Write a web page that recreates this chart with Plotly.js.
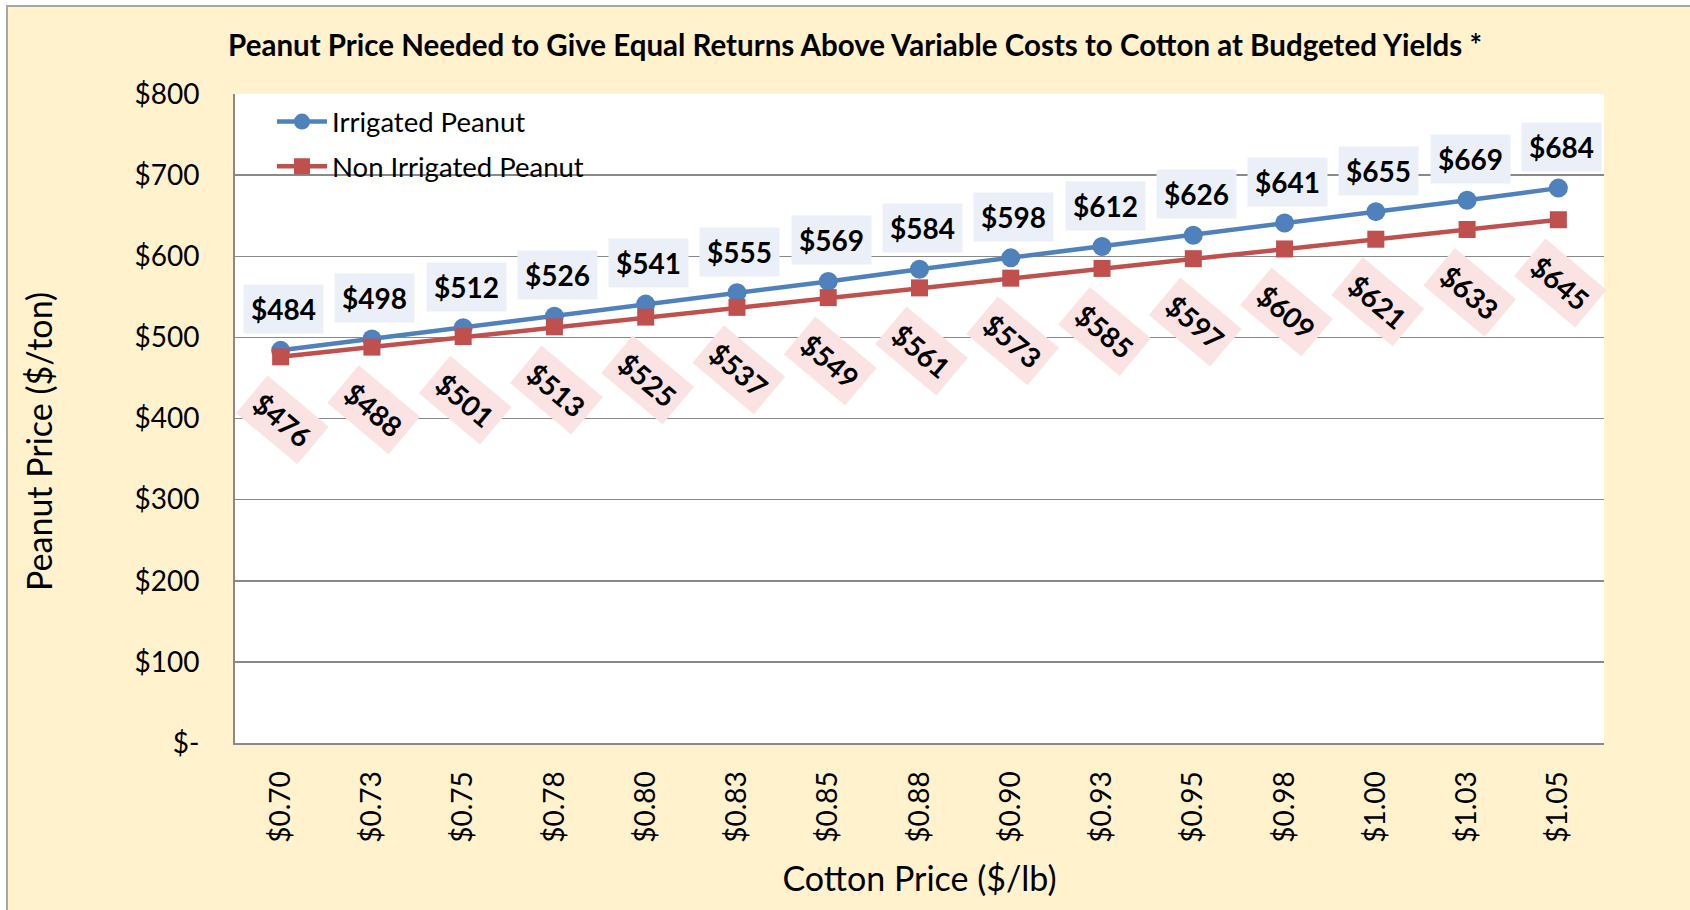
<!DOCTYPE html>
<html>
<head>
<meta charset="utf-8">
<script src="https://cdn.plot.ly/plotly-3.0.1.min.js"></script>
<style>
  html, body { margin: 0; padding: 0; background: #ffffff; width: 1690px; height: 910px; overflow: hidden; }
  #frame { position: absolute; left: 6px; top: 5px; width: 1684px; height: 905px; border-left: 2px solid #a6a6a6; border-top: 2px solid #a6a6a6; background: #FFF2CC; }
  #chart { position: absolute; left: 0px; top: 0px; width: 1684px; height: 905px; }
</style>
</head>
<body>
<div id="frame"><div id="chart"></div></div>
<script>
// ---- data ----
const cottonPrices = ["$0.70", "$0.73", "$0.75", "$0.78", "$0.80", "$0.83", "$0.85", "$0.88", "$0.90", "$0.93", "$0.95", "$0.98", "$1.00", "$1.03", "$1.05"];
const irrigatedPeanut = [484, 498, 512, 526, 541, 555, 569, 584, 598, 612, 626, 641, 655, 669, 684];
const nonIrrigatedPeanut = [476, 488, 501, 513, 525, 537, 549, 561, 573, 585, 597, 609, 621, 633, 645];
const yTickVals = [0, 100, 200, 300, 400, 500, 600, 700, 800];
const yTickText = ["$-", "$100", "$200", "$300", "$400", "$500", "$600", "$700", "$800"];
const seriesNames = ["Irrigated Peanut", "Non Irrigated Peanut"];
const chartTitle = "Peanut Price Needed to Give Equal Returns Above Variable Costs to Cotton at Budgeted Yields *";
const xTitle = "Cotton Price ($/lb)";
const yTitle = "Peanut Price ($/ton)";

// ---- styles ----
const FONT = "Lato, 'Open Sans', sans-serif";
const BLUE = "#4F81BD";
const RED = "#C0504D";
const GRID = "#898989";

const traces = [
  {
    x: cottonPrices, y: irrigatedPeanut, name: seriesNames[0], type: "scatter", mode: "lines+markers",
    legendgroup: "a",
    line: { color: BLUE, width: 4.5 },
    marker: { symbol: "circle", size: 19, color: BLUE },
    hoverinfo: "skip"
  },
  {
    x: cottonPrices, y: nonIrrigatedPeanut, name: seriesNames[1], type: "scatter", mode: "lines+markers",
    legendgroup: "b",
    line: { color: RED, width: 4.5 },
    marker: { symbol: "square", size: 17, color: RED },
    hoverinfo: "skip"
  }
];

const fmt = v => "$" + v;

const annotations = [];
irrigatedPeanut.forEach((v, i) => {
  annotations.push({
    x: cottonPrices[i], y: v, xref: "x", yref: "y", text: fmt(v), showarrow: false,
    yshift: 41, xshift: 3,
    font: { family: FONT, size: 28, color: "#000000", weight: "bold" },
    bgcolor: "#ebf0f8", borderpad: 7
  });
});
nonIrrigatedPeanut.forEach((v, i) => {
  annotations.push({
    x: cottonPrices[i], y: v, xref: "x", yref: "y", text: fmt(v), showarrow: false,
    yshift: -63, xshift: 2, textangle: 40,
    font: { family: FONT, size: 28, color: "#000000", weight: "bold" },
    bgcolor: "#fbe3e3", borderpad: 7
  });
});
// y-axis title placed to match the original position
annotations.push({
  xref: "paper", yref: "paper", x: -0.1441, y: 0.465, xanchor: "center", yanchor: "middle",
  text: yTitle, showarrow: false, textangle: -90,
  font: { family: FONT, size: 34, color: "#000000" }
});

const layout = {
  width: 1684, height: 905,
  paper_bgcolor: "#FFF2CC",
  plot_bgcolor: "#FFFFFF",
  margin: { l: 227, r: 88, t: 87, b: 169 },
  font: { family: FONT, color: "#000000", size: 26 },
  title: {
    text: "<b>" + chartTitle + "</b>",
    font: { family: FONT, size: 29.5, color: "#000000" },
    xref: "container", yref: "container", x: 0.503, y: 0.957, xanchor: "center", yanchor: "middle"
  },
  showlegend: true,
  legend: {
    x: 0.027, y: 0.995, xanchor: "left", yanchor: "top",
    bgcolor: "rgba(0,0,0,0)", borderwidth: 0,
    font: { family: FONT, size: 27.5, color: "#000000" },
    itemwidth: 50, traceorder: "grouped", tracegroupgap: 6
  },
  xaxis: {
    type: "category", range: [-0.5, 14.5],
    showgrid: false, zeroline: false,
    showline: true, linecolor: GRID, linewidth: 2,
    ticks: "", tickangle: -90, ticklabelstandoff: 15,
    tickfont: { family: FONT, size: 28, color: "#000000" },
    title: { text: xTitle, font: { family: FONT, size: 34, color: "#000000" }, standoff: 25 },
    fixedrange: true
  },
  yaxis: {
    range: [0, 800], tickvals: yTickVals, ticktext: yTickText,
    showgrid: true, gridcolor: GRID, gridwidth: 1.5, zeroline: false,
    showline: true, linecolor: GRID, linewidth: 2,
    ticks: "", ticklabelstandoff: 28,
    tickfont: { family: FONT, size: 28, color: "#000000" },
    fixedrange: true
  },
  annotations: annotations
};

Plotly.newPlot("chart", traces, layout, { displayModeBar: false, staticPlot: true });
</script>
</body>
</html>
